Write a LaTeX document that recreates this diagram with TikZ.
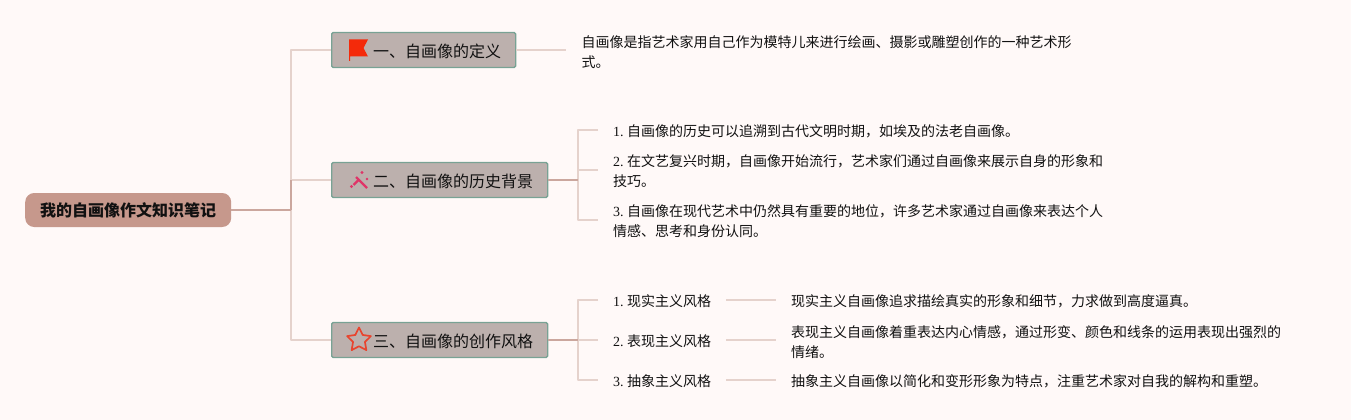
\documentclass[tikz,border=0pt]{standalone}
\usepackage{fontspec}
\setmainfont{Noto Sans CJK SC}
\newfontfamily\numfont{Liberation Serif}
\usetikzlibrary{shapes.geometric}
\definecolor{bgc}{HTML}{FFF9F8}
\definecolor{rootc}{HTML}{C6988C}
\definecolor{boxc}{HTML}{BCB0AD}
\definecolor{boxline}{HTML}{78A294}
\definecolor{lightl}{HTML}{E5D2CC}
\definecolor{darkl}{HTML}{CBA79E}
\definecolor{txt}{HTML}{111111}
\definecolor{flagc}{HTML}{F42A0A}
\definecolor{wandc}{HTML}{DF3568}
\definecolor{starc}{HTML}{E8452F}
\newcommand{\nm}[1]{{\numfont #1}\hspace*{3.4pt}}
\newcommand{\dn}[2]{\vbox{\kern#1\hbox{#2}}}
\tikzset{
  rootbox/.style={fill=rootc,rounded corners=9pt,inner xsep=15pt,inner ysep=0pt,minimum height=34pt,anchor=west,text=txt,font=\fontsize{16}{20}\selectfont\bfseries},
  mainbox/.style={fill=boxc,draw=boxline,line width=1.4pt,rounded corners=1.5pt,inner xsep=0pt,inner ysep=0pt,minimum height=35pt,anchor=west,text=txt,font=\fontsize{16}{20}\selectfont},
  leaf/.style={anchor=west,inner ysep=0pt,inner xsep=0pt,align=left,text=txt,font=\fontsize{14}{20}\selectfont},
  thin link/.style={draw=lightl,line width=1.5pt,line join=round},
  thick link/.style={draw=darkl,line width=1.7pt},
}
\begin{document}
\begin{tikzpicture}[x=1pt,y=-1pt]
\useasboundingbox (0,0) rectangle (1351,420);
\fill[bgc] (0,0) rectangle (1351,420);
% nodes
\node[rootbox] (root) at (25,210) {\dn{1.5pt}{我的自画像作文知识笔记}};
\node[mainbox] (m1) at (331,50) {\dn{2pt}{\hspace*{41.5pt}一、自画像的定义\hspace*{14.5pt}}};
\node[mainbox] (m2) at (331,180) {\dn{2pt}{\hspace*{41.5pt}二、自画像的历史背景\hspace*{14.5pt}}};
\node[mainbox] (m3) at (331,340) {\dn{2pt}{\hspace*{41.5pt}三、自画像的创作风格\hspace*{14.5pt}}};
\node[leaf] (d1) at (566,50) {\dn{7pt}{\hspace*{15.5pt}\begin{tabular}{@{}l@{}}自画像是指艺术家用自己作为模特儿来进行绘画、摄影或雕塑创作的一种艺术形\\式。\end{tabular}}};
\node[leaf] (h1) at (598,130) {\dn{4pt}{\hspace*{15pt}\begin{tabular}{@{}l@{}}\nm{1.}自画像的历史可以追溯到古代文明时期，如埃及的法老自画像。\end{tabular}}};
\node[leaf] (h2) at (598,170) {\dn{5pt}{\hspace*{15pt}\begin{tabular}{@{}l@{}}\nm{2.}在文艺复兴时期，自画像开始流行，艺术家们通过自画像来展示自身的形象和\\技巧。\end{tabular}}};
\node[leaf] (h3) at (598,220) {\dn{5pt}{\hspace*{15pt}\begin{tabular}{@{}l@{}}\nm{3.}自画像在现代艺术中仍然具有重要的地位，许多艺术家通过自画像来表达个人\\情感、思考和身份认同。\end{tabular}}};
\node[leaf] (s1) at (598,300) {\dn{2pt}{\hspace*{15pt}\nm{1.}现实主义风格\hspace*{15pt}}};
\node[leaf] (s2) at (598,340) {\dn{2pt}{\hspace*{15pt}\nm{2.}表现主义风格\hspace*{15pt}}};
\node[leaf] (s3) at (598,380) {\dn{2pt}{\hspace*{15pt}\nm{3.}抽象主义风格\hspace*{15pt}}};
\node[leaf] (t1) at (776,300) {\dn{3pt}{\hspace*{15pt}现实主义自画像追求描绘真实的形象和细节，力求做到高度逼真。}};
\node[leaf] (t2) at (776,340) {\dn{6pt}{\hspace*{15pt}\begin{tabular}{@{}l@{}}表现主义自画像着重表达内心情感，通过形变、颜色和线条的运用表现出强烈的\\情绪。\end{tabular}}};
\node[leaf] (t3) at (776,380) {\dn{2pt}{\hspace*{15pt}抽象主义自画像以简化和变形形象为特点，注重艺术家对自我的解构和重塑。}};
% elbows
\coordinate (e0) at (291,210);
\coordinate (e2) at (578,180);
\coordinate (e3) at (578,340);
% connectors
\draw[thin link] (m1.west) -| (e0) |- (m3.west);
\draw[thin link] (e0|-m2.west) -- (m2.west);
\draw[thin link] (m1.east) -- (d1.west);
\draw[thin link] (h1.west) -| (e2) |- (h3.west);
\draw[thin link] (e2|-h2.west) -- (h2.west);
\draw[thin link] (s1.west) -| (e3) |- (s3.west);
\draw[thin link] (e3) -- (s2.west);
\draw[thin link] (s1.east) -- (t1.west);
\draw[thin link] (s2.east) -- (t2.west);
\draw[thin link] (s3.east) -- (t3.west);
\draw[thick link] (root.east) -- (e0);
\draw[thick link] (e0) -- (e0|-m2.west);
\draw[thick link] (m2.east) -- (e2);
\draw[thick link] (m3.east) -- (e3);
% icons
\fill[flagc] (349,39.5) -- (368,39.5) -- (363.5,48) -- (368,56.5) -- (350,56.5) -- (350,61) -- (349,61) -- cycle;
\draw[draw=wandc,line width=2.4pt] (356,177) -- (367,188);
\draw[draw=wandc,line width=2.4pt] (353.5,185) -- (359,179.5);
\fill[wandc] (362,172.5) circle (1.7) (351.5,186.5) circle (1.7) (367,179) circle (1.3);
\node[star,star points=5,star point ratio=2.0,draw=starc,line width=1.7pt,line join=round,minimum size=25pt,inner sep=0pt] (icon3) at (359,340) {};
\end{tikzpicture}
\end{document}
